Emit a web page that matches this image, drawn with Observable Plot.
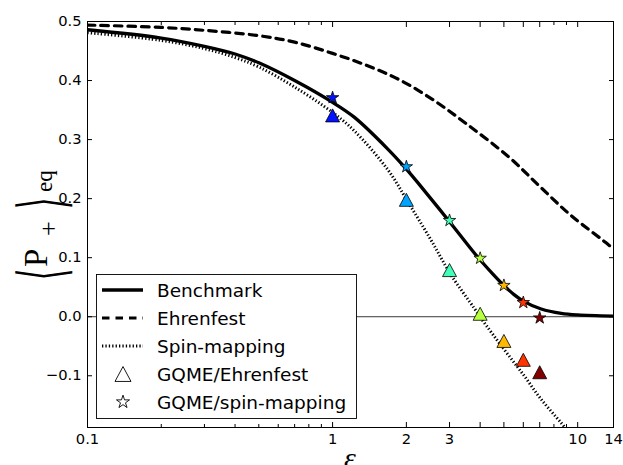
<!DOCTYPE html>
<html><head><meta charset="utf-8">
<script src="https://cdn.jsdelivr.net/npm/d3@7"></script>
<script src="https://cdn.jsdelivr.net/npm/@observablehq/plot@0.6"></script>
<style>body{margin:0;background:#fff;}</style>
</head><body><div id="chart"></div>
<script>
// ---- data ----
const eps = [1, 2, 3, 4, 5, 6, 7];
const gqmeEhrenfest = [0.341, 0.198, 0.079, 0.005, -0.041, -0.073, -0.094];
const gqmeSpin = [0.371, 0.254, 0.163, 0.099, 0.053, 0.024, -0.002];

const benchEps = [0.1,0.2,0.3,0.4,0.5,0.7,1.0,1.225,1.68,2.0,2.3,3.0,3.9,4.5,5.0,5.5,6.0,7.1,8.57,10,14];
const benchP   = [0.486,0.472,0.458,0.445,0.430,0.400,0.363,0.338,0.284,0.250,0.220,0.161,0.1015,0.0725,0.0528,0.0375,0.0265,0.013,0.0056,0.003,0.001];

const ehrEps = [0.1,0.2,0.3,0.5,0.7,1.0,1.39,1.9,2.6,3.56,5.22,6.99,9.36,12.8,14];
const ehrP   = [0.494,0.490,0.485,0.476,0.465,0.446,0.425,0.400,0.366,0.325,0.271,0.221,0.172,0.128,0.115];

const spinEps = [0.1,0.2,0.3,0.4,0.5,0.7,1.0,1.225,1.68,2.04,2.52,3.04,3.79,4.04,5.0,6.0,7.1,8.57,9.2];
const spinP   = [0.481,0.468,0.454,0.439,0.423,0.389,0.346,0.315,0.249,0.193,0.130,0.071,0.014,-0.003,-0.055,-0.098,-0.140,-0.180,-0.196];

const xMajorTicks = [0.1, 1, 2, 3, 4, 5, 6, 7, 10, 14];
const xMinorTicks = [0.2, 0.3, 0.4, 0.5, 0.6, 0.7, 0.8, 0.9, 8, 9];
const yTicks = [-0.1, 0.0, 0.1, 0.2, 0.3, 0.4, 0.5];
const legendLabels = ["Benchmark", "Ehrenfest", "Spin-mapping", "GQME/Ehrenfest", "GQME/spin-mapping"];

// jet colormap samples (eps/7)
const palette = ["#0012ff", "#00a4ff", "#41ffb6", "#b6ff41", "#ffb900", "#ff3200", "#800000"];

// ---- tables ----
const toRows = (xs, ys) => xs.map((x, i) => ({x, y: ys[i]}));
const bench = toRows(benchEps, benchP);
const ehr = toRows(ehrEps, ehrP);
const spin = toRows(spinEps, spinP);
const tri = eps.map((e, i) => ({x: e, y: gqmeEhrenfest[i], c: e}));
const star = eps.map((e, i) => ({x: e, y: gqmeSpin[i], c: e}));

// matplotlib-like triangle centred on its bounding box
const mplTriangle = {draw(ctx, size) {
  const r = Math.sqrt(size / Math.PI);
  const h = r * 0.93;
  ctx.moveTo(0, -h); ctx.lineTo(r, h); ctx.lineTo(-r, h); ctx.closePath();
}};

const DASH = "7.5,6", DOT = "1.3,2.1";
const CURVE = "catmull-rom";
const blank = () => "";
const chart = Plot.plot({
  width: 623, height: 465,
  marginLeft: 87, marginRight: 10, marginTop: 21, marginBottom: 38,
  style: {fontFamily: "DejaVu Sans", fontSize: "14.7px", color: "#000", background: "#fff"},
  x: {type: "log", domain: [0.1, 14]},
  y: {domain: [-0.1876, 0.5]},
  color: {type: "ordinal", domain: eps, range: palette},
  marks: [
    Plot.ruleY([0], {stroke: "#222", strokeWidth: 0.9}),
    Plot.line(ehr, {x: "x", y: "y", stroke: "#000", strokeWidth: 3.2, strokeDasharray: DASH, curve: CURVE, clip: true}),
    Plot.line(spin, {x: "x", y: "y", stroke: "#000", strokeWidth: 3, strokeDasharray: DOT, curve: CURVE, clip: true, className: "spinline"}),
    Plot.line(bench, {x: "x", y: "y", stroke: "#000", strokeWidth: 3.3, curve: CURVE, clip: true}),
    Plot.dot(tri, {x: "x", y: "y", fill: "c", symbol: mplTriangle, r: 7, stroke: "#000", strokeWidth: 0.8}),
    Plot.dot(star, {x: "x", y: "y", fill: "c", symbol: "star", r: 3.9, stroke: "#000", strokeWidth: 0.8}),
    // axes: labels outside, ticks pointing inward on all four sides
    Plot.axisX(xMajorTicks, {tickSize: 0, tickPadding: 6, tickFormat: d => String(d), label: null}),
    Plot.axisX(xMajorTicks, {anchor: "bottom", tickSize: -5, tickFormat: blank, label: null}),
    Plot.axisX(xMajorTicks, {anchor: "top", tickSize: -5, tickFormat: blank, label: null}),
    Plot.axisX(xMinorTicks, {anchor: "bottom", tickSize: -3, tickFormat: blank, label: null}),
    Plot.axisX(xMinorTicks, {anchor: "top", tickSize: -3, tickFormat: blank, label: null}),
    Plot.axisY(yTicks, {tickSize: 0, tickPadding: 6, tickFormat: d3.format(".1f"), label: null}),
    Plot.axisY(yTicks, {anchor: "left", tickSize: -5, tickFormat: blank, label: null}),
    Plot.axisY(yTicks, {anchor: "right", tickSize: -5, tickFormat: blank, label: null}),
    Plot.frame({stroke: "#000", strokeWidth: 1})
  ]
});
document.getElementById("chart").appendChild(chart);

const svg = d3.select(chart);
// make sure the spin-mapping curve is dotted
svg.selectAll(".spinline, .spinline path").attr("stroke-dasharray", DOT).attr("stroke-linecap", "butt");

// ---- legend ----
const lg = svg.append("g").attr("text-anchor", "start");
lg.append("rect").attr("x", 96.5).attr("y", 274.5).attr("width", 260).attr("height", 144)
  .attr("fill", "#fff").attr("stroke", "#000").attr("stroke-width", 0.9);
const rowY = [290, 318, 346, 374, 402];
const lineStyles = [{w: 3.3, dash: null}, {w: 3.2, dash: DASH}, {w: 3, dash: DOT}];
lineStyles.forEach((s, i) => {
  const l = lg.append("line").attr("x1", 102).attr("x2", 143).attr("y1", rowY[i]).attr("y2", rowY[i])
    .attr("stroke", "#000").attr("stroke-width", s.w);
  if (s.dash) l.attr("stroke-dasharray", s.dash);
});
lg.append("path").attr("transform", `translate(123,${rowY[3]})`)
  .attr("d", d3.symbol(mplTriangle, Math.PI * 8 * 8)())
  .attr("fill", "#fff").attr("stroke", "#000").attr("stroke-width", 0.9);
lg.append("path").attr("transform", `translate(123,${rowY[4]})`)
  .attr("d", d3.symbol(d3.symbolStar, Math.PI * 4.1 * 4.1)())
  .attr("fill", "#fff").attr("stroke", "#000").attr("stroke-width", 0.9);
legendLabels.forEach((t, i) => {
  lg.append("text").attr("x", 157).attr("y", rowY[i] + 6.7)
    .attr("font-family", "DejaVu Sans").attr("font-size", 18.5).attr("fill", "#000").text(t);
});

// ---- y-axis label  <P_+>_eq ----
const yl = svg.append("g").attr("transform", "translate(47,280) rotate(-90)").attr("text-anchor", "start")
  .attr("font-family", "Liberation Serif, DejaVu Serif, serif").attr("fill", "#000");
yl.append("text").attr("transform", "translate(0,17) scale(0.45,1)")
  .attr("font-family", "DejaVu Sans").attr("font-size", 64).text("\u27E8");
yl.append("text").attr("x", 13).attr("y", 0).attr("font-size", 33).text("P");
yl.append("text").attr("x", 44).attr("y", 10).attr("font-size", 26).text("+");
yl.append("text").attr("transform", "translate(71,17) scale(0.45,1)")
  .attr("font-family", "DejaVu Sans").attr("font-size", 64).text("\u27E9");
yl.append("text").attr("x", 88).attr("y", 5).attr("font-size", 23).text("eq");

// ---- x-axis label ----
svg.append("text").attr("x", 350).attr("y", 468).attr("text-anchor", "middle")
  .attr("font-family", "Liberation Serif, DejaVu Serif, serif").attr("font-style", "italic")
  .attr("font-size", 30).attr("fill", "#000").text("\u03B5");
</script>
</body></html>
